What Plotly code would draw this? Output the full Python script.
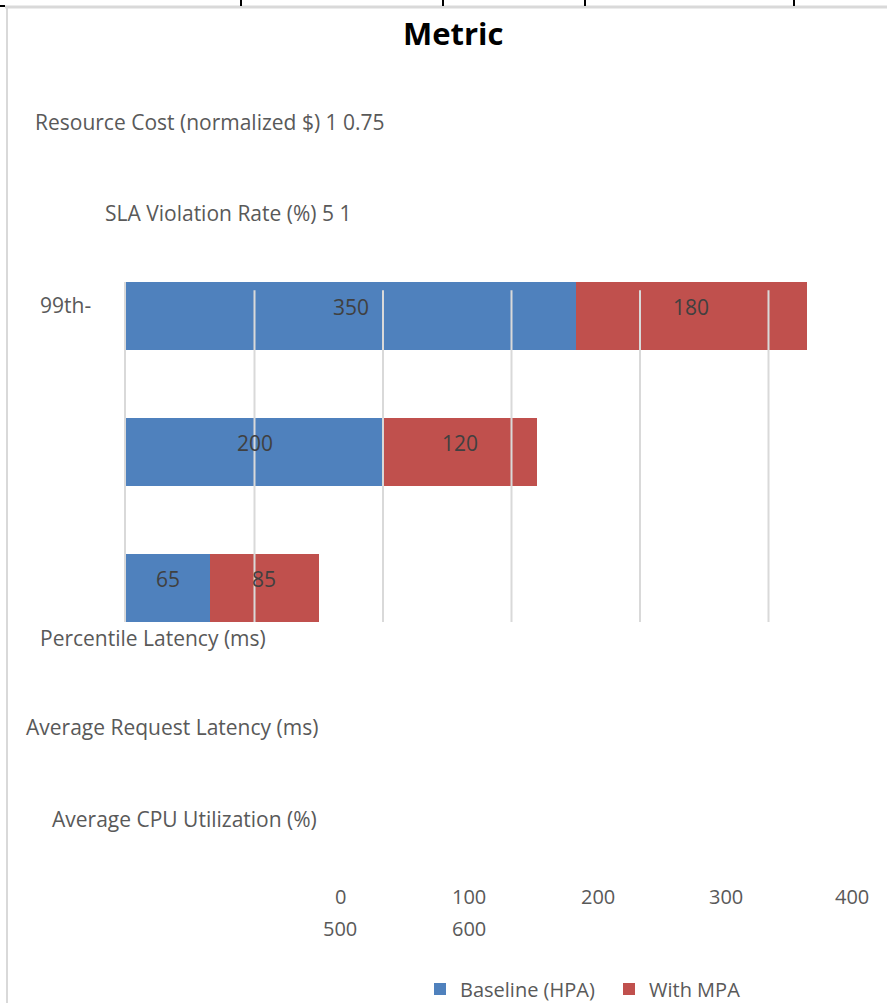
import plotly.graph_objects as go

# ---- data ----
categories = ["Average CPU Utilization (%)", "Average Request Latency (ms)", "99th-Percentile Latency (ms)"]
baseline_hpa = [65, 200, 350]
with_mpa = [85, 120, 180]
series_names = ["Baseline (HPA)", "With MPA"]
grid_values = [100, 200, 300, 400, 500]
tick_labels_row1 = ["0", "100", "200", "300", "400"]
tick_labels_row2 = ["500", "600"]
title_text = "Metric"
stray_labels = [
    "Resource Cost (normalized $) 1 0.75",
    "SLA Violation Rate (%) 5 1",
    "99th-",
    "Percentile Latency (ms)",
    "Average Request Latency (ms)",
    "Average CPU Utilization (%)",
]

# ---- geometry (pixel layout of the page) ----
W, H = 887, 1003
L, R, T, B = 126, 0, 282, 381
PW, PH = W - L - R, H - T - B
XMAX = PW / 1.285


def px(x):
    return (x - L) / PW


def py(y):
    return (H - B - y) / PH


BLUE = "#4F81BD"
RED = "#C0504D"
TXT = "#595959"
LBL = "#404040"
GRID = "#D9D9D9"
FONT = "Open Sans"

fig = go.Figure()
fig.add_trace(go.Bar(y=categories, x=baseline_hpa, orientation="h", name=series_names[0],
                     marker=dict(color=BLUE, line=dict(width=0))))
fig.add_trace(go.Bar(y=categories, x=with_mpa, orientation="h", name=series_names[1],
                     marker=dict(color=RED, line=dict(width=0))))

shapes = []
# grid lines drawn over the bars
for g in grid_values:
    shapes.append(dict(type="line", xref="x", yref="y", x0=g, x1=g, y0=-0.25, y1=2.19,
                       line=dict(color=GRID, width=2), layer="above"))
# page frame artefacts
shapes.append(dict(type="line", xref="paper", yref="paper", x0=px(5), x1=px(887), y0=py(7), y1=py(7),
                   line=dict(color=GRID, width=3), layer="above"))
shapes.append(dict(type="line", xref="paper", yref="paper", x0=px(7), x1=px(7), y0=py(7), y1=py(1003),
                   line=dict(color=GRID, width=2), layer="above"))
for tx in [241, 443, 585, 794]:
    shapes.append(dict(type="line", xref="paper", yref="paper", x0=px(tx), x1=px(tx), y0=py(0), y1=py(6),
                       line=dict(color="black", width=2), layer="above"))
shapes.append(dict(type="line", xref="paper", yref="paper", x0=px(0), x1=px(5), y0=py(6), y1=py(6),
                   line=dict(color="black", width=2), layer="above"))

annotations = []
# title
annotations.append(dict(text="<b>%s</b>" % title_text, xref="paper", yref="paper", x=px(453), y=py(33),
                        xanchor="center", yanchor="middle", showarrow=False,
                        font=dict(family=FONT, size=31, color="black")))
# stray category texts
stray_pos = [(33, 122), (103, 213), (38, 305), (38, 638), (24, 727), (50, 819)]
for t, (x, y) in zip(stray_labels, stray_pos):
    annotations.append(dict(text=t, xref="paper", yref="paper", x=px(x), y=py(y),
                            xanchor="left", yanchor="middle", showarrow=False,
                            font=dict(family=FONT, size=21, color=TXT)))
# shifted tick labels
for t, x in zip(tick_labels_row1, [340, 469, 598, 726, 852]):
    annotations.append(dict(text=t, xref="paper", yref="paper", x=px(x), y=py(896),
                            xanchor="center", yanchor="middle", showarrow=False,
                            font=dict(family=FONT, size=20, color=TXT)))
for t, x in zip(tick_labels_row2, [340, 469]):
    annotations.append(dict(text=t, xref="paper", yref="paper", x=px(x), y=py(928),
                            xanchor="center", yanchor="middle", showarrow=False,
                            font=dict(family=FONT, size=20, color=TXT)))
# data labels at segment centres
for cat, b, m in zip(categories, baseline_hpa, with_mpa):
    annotations.append(dict(text=str(b), x=b / 2, y=cat, xref="x", yref="y", yshift=9,
                            showarrow=False, font=dict(family=FONT, size=21, color=LBL)))
    annotations.append(dict(text=str(m), x=b + m / 2, y=cat, xref="x", yref="y", yshift=9,
                            showarrow=False, font=dict(family=FONT, size=21, color=LBL)))

fig.update_layout(
    width=W, height=H,
    margin=dict(l=L, r=R, t=T, b=B, pad=0, autoexpand=False),
    paper_bgcolor="white", plot_bgcolor="white",
    barmode="stack", bargap=0.5,
    showlegend=True,
    legend=dict(orientation="h", x=px(420), y=py(989), xanchor="left", yanchor="middle",
                font=dict(family=FONT, size=20, color=TXT), itemwidth=30,
                entrywidth=144, entrywidthmode="pixels",
                bgcolor="rgba(0,0,0,0)", traceorder="normal"),
    xaxis=dict(range=[0, XMAX], showgrid=False, zeroline=False, showticklabels=False,
               showline=False, fixedrange=True),
    yaxis=dict(range=[-0.25, 2.25], showgrid=False, zeroline=False, showticklabels=False,
               showline=True, linecolor=GRID, linewidth=2, categoryorder="array",
               categoryarray=categories, fixedrange=True),
    shapes=shapes,
    annotations=annotations,
)

fig.write_html("out.html")
